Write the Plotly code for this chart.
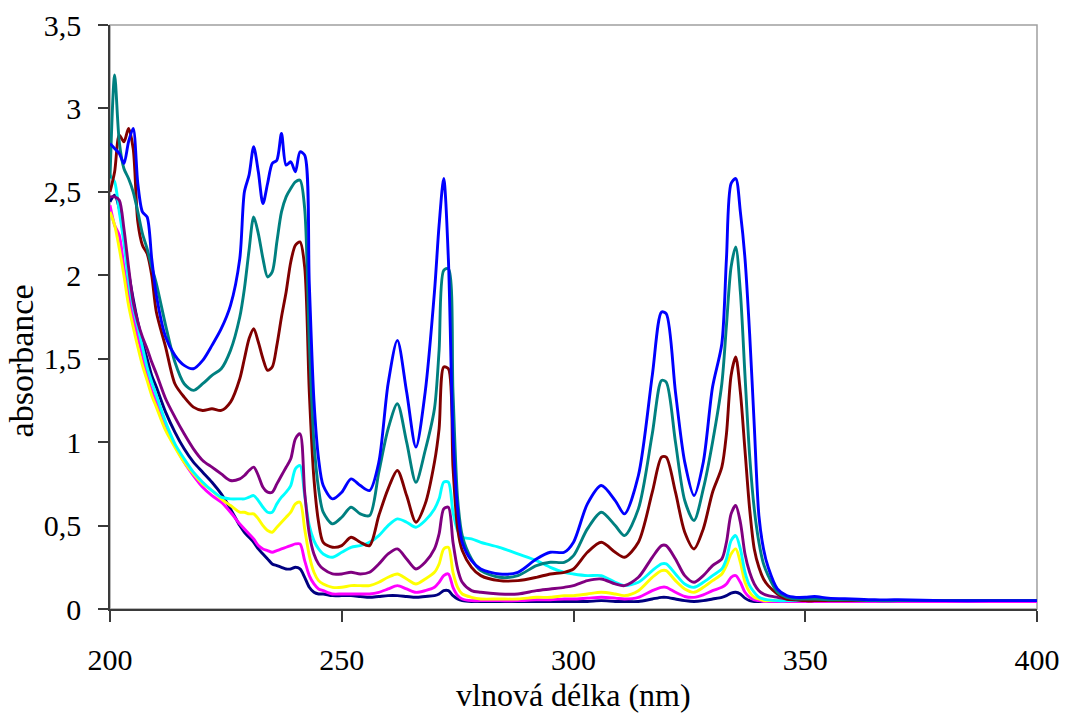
import plotly.graph_objects as go

# Wavelength grid (nm) shared by all spectra
wavelength_nm = [
    200, 201, 202, 203, 204, 205, 206, 207, 208, 209,
    210, 212, 214, 216, 218, 220, 222, 224, 226, 228,
    229, 230, 231, 232, 233, 234, 235, 236, 237, 238,
    239, 240, 241, 242, 243, 244, 245, 246, 248, 250,
    252, 254, 256, 258, 260, 262, 264, 266, 268, 270,
    271, 272, 273, 274, 275, 276, 278, 280, 284, 288,
    292, 295, 298, 300, 303, 306, 309, 311, 314, 317,
    319, 320, 322, 324, 326, 328, 330, 332, 333, 334,
    335, 336, 337, 338, 339, 340, 341, 342, 344, 346,
    348, 350, 352, 355, 360, 365, 370, 380, 390, 400,
]

abs_blue = [
    2.79, 2.76, 2.73, 2.67, 2.80, 2.88, 2.55, 2.38, 2.35, 2.10,
    1.88, 1.63, 1.52, 1.46, 1.44, 1.49, 1.58, 1.68, 1.82, 2.10,
    2.50, 2.60, 2.77, 2.62, 2.43, 2.55, 2.67, 2.69, 2.85, 2.66,
    2.68, 2.62, 2.74, 2.72, 1.95, 1.25, 0.90, 0.74, 0.66, 0.70,
    0.78, 0.74, 0.71, 0.88, 1.35, 1.61, 1.30, 0.97, 1.30, 1.90,
    2.30, 2.58, 2.10, 1.05, 0.60, 0.40, 0.29, 0.24, 0.21, 0.22,
    0.30, 0.34, 0.34, 0.40, 0.63, 0.74, 0.65, 0.57, 0.80, 1.40,
    1.78, 1.77, 1.30, 0.88, 0.68, 0.88, 1.33, 1.59, 2.10, 2.55,
    2.58, 2.38, 2.10, 1.65, 1.10, 0.56, 0.36, 0.25, 0.12, 0.08,
    0.07, 0.07, 0.075, 0.065, 0.06, 0.055, 0.055, 0.05, 0.05, 0.05,
]

abs_teal = [
    2.58, 3.20, 2.80, 2.64, 2.58, 2.50, 2.38, 2.25, 2.16, 2.05,
    1.95, 1.70, 1.48, 1.35, 1.31, 1.35, 1.40, 1.44, 1.55, 1.75,
    1.92, 2.15, 2.35, 2.25, 2.10, 1.99, 2.02, 2.20, 2.38, 2.47,
    2.52, 2.56, 2.57, 2.40, 1.60, 1.00, 0.72, 0.58, 0.51, 0.55,
    0.61, 0.57, 0.56, 0.82, 1.08, 1.23, 1.00, 0.76, 0.95, 1.20,
    1.55, 2.03, 2.04, 1.30, 0.66, 0.44, 0.30, 0.23, 0.19, 0.20,
    0.26, 0.28, 0.28, 0.32, 0.48, 0.58, 0.50, 0.44, 0.60, 1.05,
    1.37, 1.36, 1.00, 0.65, 0.53, 0.72, 1.00, 1.35, 1.70, 2.05,
    2.17, 1.90, 1.40, 0.92, 0.60, 0.40, 0.27, 0.20, 0.10, 0.07,
    0.06, 0.06, 0.06, 0.055, 0.055, 0.05, 0.05, 0.05, 0.05, 0.05,
]

abs_darkred = [
    2.50, 2.62, 2.84, 2.80, 2.88, 2.76, 2.32, 2.18, 2.13, 2.00,
    1.78, 1.57, 1.35, 1.27, 1.21, 1.19, 1.20, 1.19, 1.24, 1.38,
    1.50, 1.62, 1.68, 1.60, 1.50, 1.43, 1.45, 1.58, 1.75, 1.90,
    2.08, 2.18, 2.20, 2.05, 1.30, 0.78, 0.52, 0.40, 0.37, 0.38,
    0.43, 0.40, 0.38, 0.56, 0.72, 0.83, 0.68, 0.52, 0.63, 0.88,
    1.08, 1.45, 1.44, 0.85, 0.48, 0.35, 0.25, 0.20, 0.17, 0.17,
    0.19, 0.21, 0.22, 0.24, 0.34, 0.40, 0.34, 0.31, 0.40, 0.70,
    0.91, 0.91, 0.70, 0.46, 0.36, 0.48, 0.70, 0.85, 1.05, 1.40,
    1.51, 1.30, 0.95, 0.60, 0.36, 0.25, 0.18, 0.14, 0.09, 0.06,
    0.055, 0.05, 0.05, 0.05, 0.05, 0.05, 0.05, 0.05, 0.05, 0.05,
]

abs_purple = [
    2.47, 2.47, 2.45, 2.28, 2.05, 1.84, 1.72, 1.63, 1.56, 1.48,
    1.41, 1.26, 1.15, 1.05, 0.96, 0.89, 0.85, 0.81, 0.77, 0.78,
    0.80, 0.83, 0.85, 0.80, 0.73, 0.70, 0.70, 0.75, 0.80, 0.85,
    0.90, 1.02, 1.05, 0.70, 0.45, 0.33, 0.27, 0.24, 0.21, 0.21,
    0.22, 0.21, 0.22, 0.27, 0.33, 0.36, 0.30, 0.24, 0.28, 0.36,
    0.45, 0.60, 0.61, 0.40, 0.24, 0.16, 0.11, 0.10, 0.09, 0.09,
    0.11, 0.12, 0.13, 0.14, 0.17, 0.18, 0.15, 0.14, 0.19, 0.31,
    0.38, 0.38, 0.30, 0.20, 0.16, 0.20, 0.26, 0.30, 0.40, 0.57,
    0.62, 0.52, 0.33, 0.22, 0.15, 0.11, 0.09, 0.08, 0.07, 0.06,
    0.055, 0.05, 0.05, 0.05, 0.05, 0.05, 0.05, 0.05, 0.05, 0.05,
]

abs_cyan = [
    2.60, 2.56, 2.38, 2.20, 1.97, 1.81, 1.69, 1.57, 1.45, 1.36,
    1.28, 1.12, 0.99, 0.90, 0.82, 0.76, 0.71, 0.67, 0.66, 0.66,
    0.66, 0.67, 0.68, 0.65, 0.61, 0.58, 0.58, 0.63, 0.67, 0.70,
    0.74, 0.84, 0.86, 0.68, 0.50, 0.41, 0.36, 0.33, 0.31, 0.34,
    0.37, 0.38, 0.40, 0.44, 0.50, 0.54, 0.52, 0.49, 0.53, 0.60,
    0.66, 0.76, 0.76, 0.58, 0.47, 0.43, 0.42, 0.40, 0.37, 0.33,
    0.29, 0.25, 0.22, 0.21, 0.20, 0.20, 0.16, 0.14, 0.16, 0.23,
    0.27, 0.27, 0.21, 0.15, 0.13, 0.16, 0.20, 0.24, 0.30, 0.41,
    0.44, 0.36, 0.22, 0.14, 0.10, 0.07, 0.06, 0.055, 0.05, 0.05,
    0.05, 0.05, 0.05, 0.05, 0.05, 0.05, 0.05, 0.05, 0.05, 0.05,
]

abs_yellow = [
    2.38, 2.30, 2.16, 2.00, 1.82, 1.69, 1.57, 1.46, 1.37, 1.28,
    1.21, 1.07, 0.97, 0.88, 0.81, 0.75, 0.71, 0.66, 0.62, 0.58,
    0.58, 0.57, 0.57, 0.54, 0.50, 0.47, 0.46, 0.49, 0.52, 0.55,
    0.58, 0.63, 0.64, 0.48, 0.32, 0.22, 0.17, 0.15, 0.13, 0.13,
    0.14, 0.14, 0.14, 0.16, 0.19, 0.21, 0.18, 0.15, 0.18, 0.22,
    0.27, 0.36, 0.37, 0.22, 0.13, 0.09, 0.07, 0.06, 0.06, 0.06,
    0.07, 0.07, 0.08, 0.08, 0.09, 0.10, 0.09, 0.08, 0.11, 0.19,
    0.23, 0.23, 0.17, 0.12, 0.10, 0.13, 0.17, 0.21, 0.26, 0.33,
    0.36, 0.28, 0.16, 0.10, 0.07, 0.06, 0.05, 0.05, 0.05, 0.05,
    0.05, 0.05, 0.05, 0.05, 0.05, 0.05, 0.05, 0.05, 0.05, 0.05,
]

abs_magenta = [
    2.42, 2.30, 2.24, 2.05, 1.90, 1.75, 1.63, 1.52, 1.40, 1.31,
    1.24, 1.10, 0.98, 0.88, 0.80, 0.73, 0.68, 0.64, 0.58, 0.51,
    0.48, 0.45, 0.42, 0.38, 0.36, 0.35, 0.34, 0.35, 0.36, 0.37,
    0.38, 0.39, 0.39, 0.29, 0.20, 0.15, 0.12, 0.11, 0.09, 0.09,
    0.09, 0.09, 0.09, 0.10, 0.12, 0.14, 0.12, 0.10, 0.11, 0.13,
    0.16, 0.20, 0.21, 0.13, 0.08, 0.06, 0.05, 0.05, 0.05, 0.05,
    0.055, 0.055, 0.06, 0.06, 0.065, 0.07, 0.065, 0.06, 0.07, 0.11,
    0.13, 0.13, 0.10, 0.075, 0.07, 0.085, 0.11, 0.13, 0.15, 0.19,
    0.20, 0.16, 0.10, 0.07, 0.055, 0.05, 0.045, 0.045, 0.045, 0.045,
    0.045, 0.045, 0.045, 0.045, 0.045, 0.045, 0.045, 0.045, 0.045, 0.045,
]

abs_navy = [
    2.44, 2.48, 2.40, 2.22, 2.02, 1.86, 1.72, 1.60, 1.50, 1.40,
    1.33, 1.18, 1.06, 0.96, 0.88, 0.82, 0.76, 0.69, 0.60, 0.50,
    0.46, 0.43, 0.40, 0.36, 0.33, 0.30, 0.27, 0.26, 0.25, 0.24,
    0.24, 0.25, 0.24, 0.19, 0.13, 0.10, 0.09, 0.09, 0.08, 0.08,
    0.08, 0.075, 0.07, 0.075, 0.08, 0.08, 0.075, 0.07, 0.075, 0.08,
    0.09, 0.11, 0.11, 0.08, 0.06, 0.05, 0.045, 0.045, 0.045, 0.045,
    0.045, 0.045, 0.045, 0.045, 0.045, 0.05, 0.045, 0.045, 0.045, 0.06,
    0.07, 0.07, 0.06, 0.05, 0.045, 0.05, 0.06, 0.07, 0.08, 0.095,
    0.10, 0.09, 0.065, 0.05, 0.045, 0.045, 0.045, 0.045, 0.045, 0.045,
    0.045, 0.045, 0.045, 0.045, 0.045, 0.045, 0.045, 0.045, 0.045, 0.045,
]

# Draw order: bottom spectrum first, strongest spectrum last (on top)
series = [
    ("S8", abs_navy, "#000080"),
    ("S7", abs_magenta, "#FF00FF"),
    ("S6", abs_yellow, "#FFFF00"),
    ("S5", abs_cyan, "#00FFFF"),
    ("S4", abs_purple, "#800080"),
    ("S3", abs_darkred, "#800000"),
    ("S2", abs_teal, "#008080"),
    ("S1", abs_blue, "#0000FF"),
]

x_ticks = [200, 250, 300, 350, 400]
y_ticks = [0, 0.5, 1, 1.5, 2, 2.5, 3, 3.5]
y_tick_text = ["0", "0,5", "1", "1,5", "2", "2,5", "3", "3,5"]

FONT = "'Liberation Serif', 'Times New Roman', Times, 'DejaVu Serif', serif"
AXIS_COLOR = "#3a3a3a"

fig = go.Figure()
for name, values, color in series:
    fig.add_trace(go.Scatter(
        x=wavelength_nm, y=values, name=name, mode="lines",
        line=dict(color=color, width=2.9, shape="spline", smoothing=0.8),
        hoverinfo="x+y",
    ))

fig.update_layout(
    width=1065, height=716,
    margin=dict(l=110, r=28, t=25, b=107),
    paper_bgcolor="white", plot_bgcolor="white",
    showlegend=False,
    font=dict(family=FONT, color="black"),
    xaxis=dict(
        range=[200, 400], tickvals=x_ticks,
        ticks="outside", ticklen=11, tickwidth=1.5, tickcolor=AXIS_COLOR,
        showline=True, linecolor=AXIS_COLOR, linewidth=1.5,
        showgrid=False, zeroline=False, automargin=False,
        tickfont=dict(family=FONT, size=30, color="black"),
        ticklabelstandoff=12,
    ),
    yaxis=dict(
        range=[0, 3.5], tickvals=y_ticks, ticktext=y_tick_text,
        ticks="outside", ticklen=10, tickwidth=1.5, tickcolor=AXIS_COLOR,
        showline=True, linecolor=AXIS_COLOR, linewidth=1.5,
        showgrid=False, zeroline=False, automargin=False,
        tickfont=dict(family=FONT, size=30, color="black"),
        ticklabelstandoff=11,
    ),
    shapes=[dict(
        type="rect", xref="paper", yref="paper", x0=0, x1=1, y0=0, y1=1,
        line=dict(color="#a0a0a0", width=1.5), layer="below",
    )],
    annotations=[
        dict(text="vlnová délka (nm)", xref="paper", yref="paper",
             x=0.5, y=-0.147, xanchor="center", yanchor="middle",
             showarrow=False, font=dict(family=FONT, size=32, color="black")),
        dict(text="absorbance", xref="paper", yref="paper",
             x=-0.096, y=0.424, xanchor="center", yanchor="middle",
             textangle=-90, showarrow=False,
             font=dict(family=FONT, size=34, color="black")),
    ],
)

fig.write_html("out.html")
